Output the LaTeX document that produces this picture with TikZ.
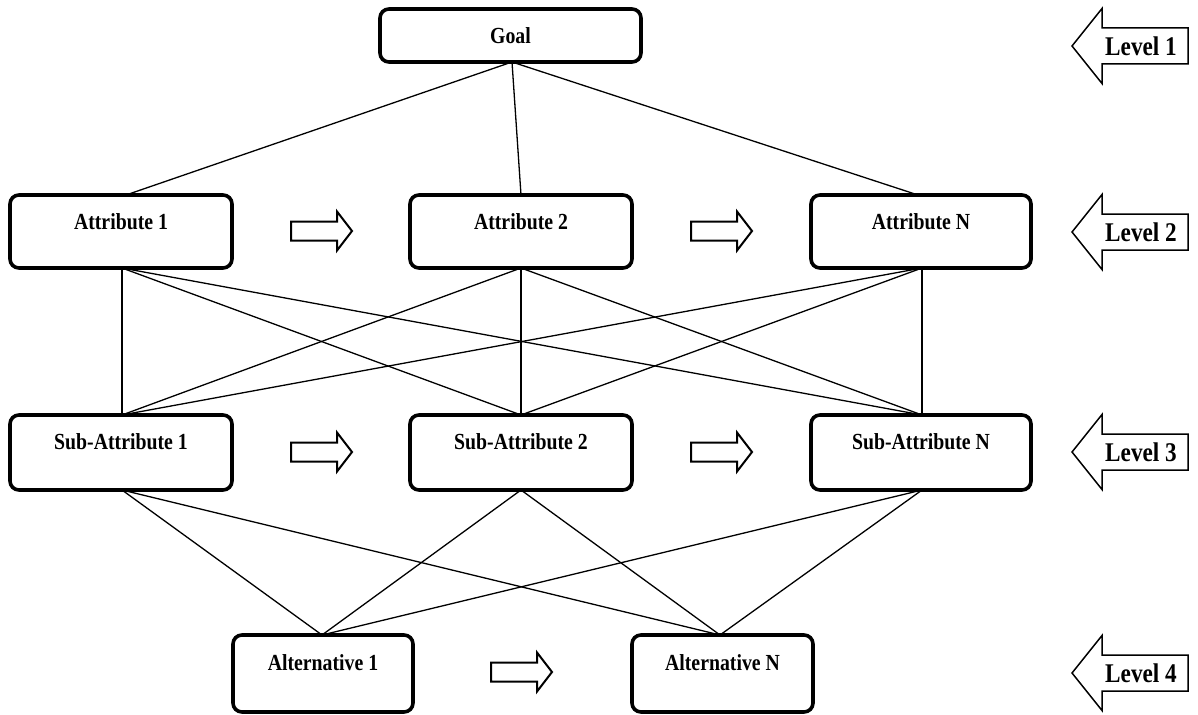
\documentclass[tikz,border=0pt]{standalone}
\usepackage{fontspec}
\setmainfont{Liberation Serif}
\newfontfamily\labfont[FakeStretch=0.86]{Liberation Serif}
\begin{document}
\begin{tikzpicture}[x=1pt,y=-1pt,
  box/.style={draw, line width=3.6pt, rounded corners=9pt, fill=white, inner sep=0pt},
  lbl/.style={font=\labfont\bfseries\fontsize{23}{26}\selectfont, inner sep=0pt},
  lvl/.style={font=\labfont\bfseries\fontsize{27}{30}\selectfont, inner sep=0pt},
  link/.style={line width=1.3pt},
  larrow/.style={draw, line width=1.5pt, fill=white, line join=miter},
  sarrow/.style={draw, line width=2pt, fill=white, line join=miter}]
\useasboundingbox (0,0) rectangle (1198,714);

% connectors (drawn first)
\coordinate (gB) at (512,62);
\coordinate (a1T) at (126,195); \coordinate (a2T) at (521,195); \coordinate (aNT) at (918,195);
\coordinate (a1B) at (122,268); \coordinate (a2B) at (521,268); \coordinate (aNB) at (922,268);
\coordinate (s1T) at (122,415); \coordinate (s2T) at (521,415); \coordinate (sNT) at (922,415);
\coordinate (s1B) at (122,490); \coordinate (s2B) at (521,490); \coordinate (sNB) at (922,490);
\coordinate (l1T) at (322,635); \coordinate (lNT) at (720,635);

\draw[link] (gB) -- (a1T) (gB) -- (a2T) (gB) -- (aNT);
\foreach \a in {a1B,a2B,aNB}{
  \foreach \s in {s1T,s2T,sNT}{\draw[link] (\a) -- (\s);}}
\foreach \s in {s1B,s2B,sNB}{
  \foreach \l in {l1T,lNT}{\draw[link] (\s) -- (\l);}}

% boxes
\node[box, minimum width=261pt, minimum height=53pt] (goal) at (510.5,35.5) {};
\node[lbl] (goalt) at (goal.center) {Goal};

\node[box, minimum width=222pt, minimum height=73pt] (a1) at (121,231.5) {};
\node[box, minimum width=222pt, minimum height=73pt] (a2) at (521,231.5) {};
\node[box, minimum width=220pt, minimum height=73pt] (aN) at (921,231.5) {};
\node[lbl] (a1t) at ([yshift=9.5pt]a1.center) {Attribute 1};
\node[lbl] (a2t) at ([yshift=9.5pt]a2.center) {Attribute 2};
\node[lbl] (aNt) at ([yshift=9.5pt]aN.center) {Attribute N};

\node[box, minimum width=222pt, minimum height=75pt] (s1) at (121,452.5) {};
\node[box, minimum width=222pt, minimum height=75pt] (s2) at (521,452.5) {};
\node[box, minimum width=220pt, minimum height=75pt] (sN) at (921,452.5) {};
\node[lbl] (s1t) at ([yshift=10.5pt]s1.center) {Sub-Attribute 1};
\node[lbl] (s2t) at ([yshift=10.5pt]s2.center) {Sub-Attribute 2};
\node[lbl] (sNt) at ([yshift=10.5pt]sN.center) {Sub-Attribute N};

\node[box, minimum width=180pt, minimum height=77pt] (l1) at (323,673.5) {};
\node[box, minimum width=181pt, minimum height=77pt] (lN) at (722.5,673.5) {};
\node[lbl] (l1t) at ([yshift=10.5pt]l1.center) {Alternative 1};
\node[lbl] (lNt) at ([yshift=10.5pt]lN.center) {Alternative N};

% small right arrows
\foreach \x/\y in {291/231, 691/231, 291/452, 691/452, 491/672}{
  \draw[sarrow] (\x,\y-9.5) -- ++(46,0) -- ++(0,-10) -- (\x+61,\y) -- (\x+46,\y+19.5)
     -- ++(0,-10) -- (\x,\y+9.5) -- cycle;}

% level arrows
\foreach \y/\n in {46/1, 232/2, 452/3, 673/4}{
  \draw[larrow] (1072,\y) -- (1102,\y-37.5) -- (1102,\y-18) -- (1188,\y-18)
     -- (1188,\y+18) -- (1102,\y+18) -- (1102,\y+37.5) -- cycle;
  \node[lvl] (lev\n) at (1141,\y) {Level \n};}
\end{tikzpicture}
\end{document}
